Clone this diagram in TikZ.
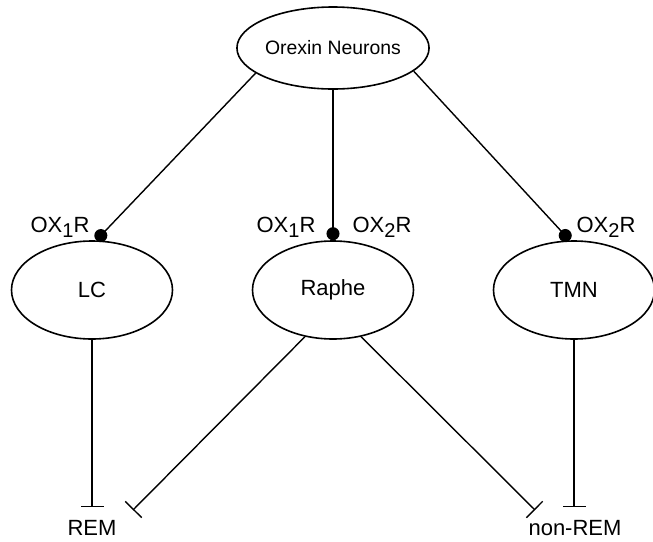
\documentclass[tikz,border=0pt]{standalone}
\usepackage{fontspec}
\setmainfont{Liberation Sans}
\usetikzlibrary{shapes.geometric,arrows.meta}

\tikzset{
  region/.style={draw, ellipse, line width=0.8pt, inner sep=0pt,
    minimum width=80.5pt, minimum height=49pt, font=\fontsize{11}{12}\selectfont},
  receptor/.style={inner sep=0pt, font=\fontsize{11}{13}\selectfont},
  excite/.style={line width=0.7pt, -{Circle[length=6.5pt]}},
  inhibit/.style={line width=0.7pt, -{Bar[width=11.5pt]}},
}
\newcommand{\oxr}[1]{OX\raisebox{-2.5pt}{\fontsize{10}{10}\selectfont #1}R}

\begin{document}
\begin{tikzpicture}[x=0.5pt, y=-0.5pt]

    % frame
    \useasboundingbox (0,0) rectangle (653,541);

    % nuclei
    \node[region, minimum width=94pt, minimum height=41pt, font=\fontsize{9.7}{11}\selectfont] (orexin) at (333,48) {Orexin Neurons};
    \node[region] (lc) at (92,290) {LC};
    \node[region] (raphe) at (333,290) {Raphe};
    \node[region] (tmn) at (574,290) {TMN};

    % orexin projections
    \draw[excite] (orexin.-162) -- (lc.85);
    \draw[excite] (orexin.south) -- (raphe.north);
    \draw[excite] (orexin.-16) -- (tmn.95);

    % receptors
    \node[receptor] (lcox1) at (60,227) {\oxr{1}};
    \node[receptor] (rapheox1) at (286,227) {\oxr{1}};
    \node[receptor] (rapheox2) at (382,227) {\oxr{2}};
    \node[receptor] (tmnox2) at (606,227) {\oxr{2}};

    % sleep states
    \node[receptor] (rem) at (92,528) {REM};
    \node[receptor] (nrem) at (575,528) {non-REM};

    \coordinate (lcend) at (92,507);
    \coordinate (raphel) at (133,510);
    \coordinate (rapher) at (535,510);
    \coordinate (tmnend) at (574,507);

    % inhibition
    \draw[inhibit] (lc.south) -- (lcend);
    \draw[inhibit] (raphe.-121) -- (raphel);
    \draw[inhibit] (raphe.-59) -- (rapher);
    \draw[inhibit] (tmn.south) -- (tmnend);

\end{tikzpicture}
\end{document}
